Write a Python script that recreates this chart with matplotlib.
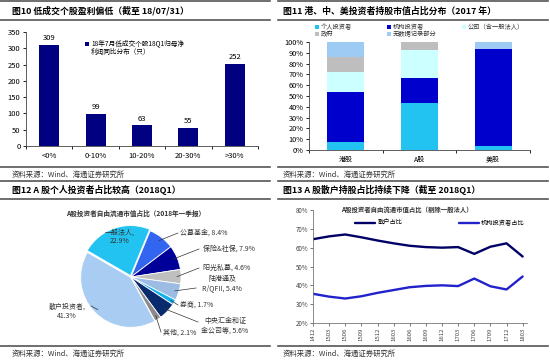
import numpy as np
import matplotlib
matplotlib.use("Agg")
import matplotlib.pyplot as plt
from matplotlib.lines import Line2D
from matplotlib.patches import Rectangle
from matplotlib.ticker import FuncFormatter

plt.rcParams['font.family'] = ['Noto Sans CJK SC', 'DejaVu Sans']

W, H = 550, 363

# ---- data ----
# fig 10
bar_cats = ['<0%', '0-10%', '10-20%', '20-30%', '>30%']
bar_vals = [309, 99, 63, 55, 252]

# fig 11
mkt_cats = ['港股', 'A股', '美股']
individual = [7.5, 43.5, 4.0]
institution = [46.0, 23.5, 89.5]
corporate = [18.5, 26.0, 0.0]
government = [14.0, 7.0, 0.0]
no_record = [14.0, 0.0, 6.5]

# fig 12
pie_labels = ['一般法人', '公募基金', '保险&社保', '阳光私募', '陆港通及\nR/QFII',
              '券商', '中央汇金和证\n金公司等', '其他', '散户投资者']
pie_vals = [22.9, 8.4, 7.9, 4.6, 5.4, 1.7, 5.6, 2.1, 41.3]

# fig 13
quarters = ['1412', '1503', '1506', '1509', '1512', '1603', '1606', '1609',
            '1612', '1703', '1706', '1709', '1712', '1803']
retail = [64.5, 66.0, 67.0, 65.5, 63.8, 62.3, 61.0, 60.3, 60.0, 60.3, 56.7, 60.5, 62.3, 55.3]
inst = [35.5, 34.0, 33.0, 34.2, 36.0, 37.5, 39.0, 39.7, 40.0, 39.6, 43.6, 39.5, 37.8, 44.7]


def px(x0, y0, x1, y1):
    return [x0 / W, 1 - y1 / H, (x1 - x0) / W, (y1 - y0) / H]


def ftext(x, y, s, **kw):
    fig.text(x / W, 1 - y / H, s, **kw)


def hline(x0, x1, y, lw=1.2, c='#555555'):
    fig.add_artist(Line2D([x0 / W, x1 / W], [1 - y / H, 1 - y / H], color=c, lw=lw))


def leg_box(x, y, color, label, size=4.5):
    fig.add_artist(Rectangle((x / W, 1 - (y + 2) / H), 4 / W, 4 / H,
                             facecolor=color, edgecolor='none'))
    ftext(x + 6, y, label, fontsize=size, va='center', color='#333333')


fig = plt.figure(figsize=(5.5, 3.63), dpi=100)

# frame lines / titles / sources
for (a, b) in [(0, 270), (278, 548)]:
    hline(a, b, 1)
    hline(a, b, 20)
    hline(a, b, 167)
    hline(a, b, 181)
    hline(a, b, 199)
    hline(a, b, 346)

ftext(12, 11, '图10 低成交个股盈利偏低（截至 18/07/31）', fontsize=6.4, weight='bold', va='center')
ftext(283, 11, '图11 港、中、美投资者持股市值占比分布（2017 年）', fontsize=6.4, weight='bold', va='center')
ftext(12, 190, '图12 A 股个人投资者占比较高（2018Q1）', fontsize=6.4, weight='bold', va='center')
ftext(283, 190, '图13 A 股散户持股占比持续下降（截至 2018Q1）', fontsize=6.4, weight='bold', va='center')
for x0 in (12, 283):
    ftext(x0, 175, '资料来源：Wind、海通证券研究所', fontsize=5.3, va='center', color='#333333')
    ftext(x0, 354, '资料来源：Wind、海通证券研究所', fontsize=5.3, va='center', color='#333333')

# ---- fig 10 bar chart ----
ax1 = fig.add_axes(px(26, 32, 258, 146))
xb = np.arange(len(bar_cats))
ax1.bar(xb, bar_vals, width=0.43, color='#000080')
for i, v in enumerate(bar_vals):
    ax1.text(i, v + 9, str(v), ha='center', va='bottom', fontsize=5.5)
ax1.set_xlim(-0.5, 4.5)
ax1.set_ylim(0, 350)
ax1.set_yticks(np.arange(0, 351, 50))
ax1.set_xticks(xb)
ax1.set_xticklabels(bar_cats)
ax1.set_xticks(np.arange(-0.5, 4.6, 1), minor=True)
ax1.tick_params(axis='x', which='major', length=0, labelsize=5.5, pad=4)
ax1.tick_params(axis='x', which='minor', length=2.5, width=0.6)
ax1.tick_params(axis='y', labelsize=5.5, length=2.5, width=0.6, pad=1.5)
for s in ('top', 'right'):
    ax1.spines[s].set_visible(False)
for s in ('left', 'bottom'):
    ax1.spines[s].set_linewidth(0.6)
    ax1.spines[s].set_color('#444444')
fig.add_artist(Rectangle((85 / W, 1 - 45.5 / H), 4 / W, 4 / H, facecolor='#000080',
                         edgecolor='none'))
ftext(91, 43, '18年7月低成交个股18Q1归母净', fontsize=4.8, va='center')
ftext(91, 52, '利润同比分布（只）', fontsize=4.8, va='center')

# ---- fig 11 stacked bars ----
ax2 = fig.add_axes(px(309, 42, 530, 150))
xm = np.arange(len(mkt_cats))
series = [(individual, '#22C3F0', '个人投资者'),
          (institution, '#0000CC', '机构投资者'),
          (corporate, '#CCFFFF', '公司（含一般法人）'),
          (government, '#BEBEBE', '政府'),
          (no_record, '#9DCBF3', '无数据记录部分')]
bottom = np.zeros(len(mkt_cats))
for vals, col, lab in series:
    ax2.bar(xm, vals, bottom=bottom, width=0.5, color=col, label=lab)
    bottom += np.array(vals)
ax2.set_xlim(-0.5, 2.5)
ax2.set_ylim(0, 100)
ax2.set_yticks(np.arange(0, 101, 10))
ax2.yaxis.set_major_formatter(FuncFormatter(lambda v, p: '%d%%' % v))
ax2.set_xticks(xm)
ax2.set_xticklabels(mkt_cats)
ax2.set_xticks(np.arange(-0.5, 2.6, 1), minor=True)
ax2.tick_params(axis='x', which='major', length=0, labelsize=5, pad=4)
ax2.tick_params(axis='x', which='minor', length=2.5, width=0.6)
ax2.tick_params(axis='y', labelsize=5.3, length=2.5, width=0.6, pad=1.5)
for s in ('top', 'right'):
    ax2.spines[s].set_visible(False)
for s in ('left', 'bottom'):
    ax2.spines[s].set_linewidth(0.6)
    ax2.spines[s].set_color('#444444')
leg_pos = [(315, 27), (387, 27), (462, 27), (315, 34), (387, 34)]
for (vals, col, lab), (lx, ly) in zip(series, leg_pos):
    leg_box(lx, ly, col, lab)

# ---- fig 12 pie ----
ftext(136, 213, 'A股投资者自由流通市值占比（2018年一季报）', fontsize=4.8, weight='bold',
      ha='center', va='center', color='#333333')
ax3 = fig.add_axes(px(11, 207, 251, 347))
pie_colors = ['#22C3F0', '#3366F0', '#000099', '#BFBFBF', '#9DBCE4',
              '#12B0EC', '#0A2A6E', '#8C8C8C', '#A9CDF2']
explode = [0.03, 0, 0, 0, 0, 0, 0, 0, 0.01]
wedges, _ = ax3.pie(pie_vals, colors=pie_colors, startangle=150, counterclock=False,
                    explode=explode, radius=1.0,
                    wedgeprops=dict(edgecolor='white', linewidth=0.6))
ax3.set_xlim(-2.4, 2.4)
ax3.set_ylim(-1.4, 1.4)
ax3.set_aspect('equal')
ax3.axis('off')

# label positions and leader-line ends (data units, 50 px = 1)
lab_pos = [(-0.22, 0.80, 'center'), (0.98, 0.88, 'left'), (1.44, 0.56, 'left'),
           (1.44, 0.18, 'left'), (1.82, -0.14, 'center'), (0.98, -0.56, 'left'),
           (1.88, -0.98, 'center'), (0.64, -1.12, 'left'), (-1.28, -0.68, 'center')]
line_end = [None, (0.94, 0.88), (1.36, 0.56), (1.36, 0.18), (1.30, -0.22),
            (0.94, -0.56), (1.34, -0.90), (0.60, -1.10), (-0.80, -0.58)]
for i, (w, lab, v) in enumerate(zip(wedges, pie_labels, pie_vals)):
    lx, ly, ha = lab_pos[i]
    if i in (0, 8):
        txt = '%s,\n%.1f%%' % (lab, v)
    else:
        txt = '%s, %.1f%%' % (lab, v)
    if i == 0:
        ax3.text(lx, ly, txt, ha='center', va='center', fontsize=5, color='#333333',
                 linespacing=1.1)
        continue
    ang = np.deg2rad((w.theta1 + w.theta2) / 2)
    r = 0.92 + explode[i]
    ex, ey = line_end[i]
    ax3.plot([r * np.cos(ang), ex], [r * np.sin(ang), ey], color='#333333', lw=0.5,
             clip_on=False)
    ax3.text(lx, ly, txt, ha=ha, va='center', fontsize=5, color='#333333',
             linespacing=1.2, multialignment='center' if ha == 'center' else 'left',
             clip_on=False)

# ---- fig 13 lines ----
ftext(407, 209, 'A股投资者自由流通市值占比（剔除一般法人）', fontsize=4.6, weight='bold',
      ha='center', va='center', color='#333333')
ax4 = fig.add_axes(px(313, 210, 527, 323))
xq = np.arange(len(quarters))
l1, = ax4.plot(xq, retail, color='#000066', lw=1.7, solid_capstyle='round', label='散户占比')
l2, = ax4.plot(xq, inst, color='#2222CC', lw=1.7, solid_capstyle='round', label='机构投资者占比')
ax4.set_xlim(0, 13.27)
ax4.set_ylim(20, 80)
ax4.set_yticks(np.arange(20, 81, 10))
ax4.yaxis.set_major_formatter(FuncFormatter(lambda v, p: '%d%%' % v))
ax4.set_xticks(xq)
ax4.set_xticklabels(quarters, rotation=90)
ax4.tick_params(axis='x', labelsize=4.3, length=2, width=0.5, pad=1.5, colors='#444444')
ax4.tick_params(axis='y', labelsize=4.5, length=2, width=0.5, pad=1.5, colors='#444444')
for s in ('top', 'right'):
    ax4.spines[s].set_visible(False)
for s in ('left', 'bottom'):
    ax4.spines[s].set_linewidth(0.6)
    ax4.spines[s].set_color('#777777')
ax4.legend(handles=[l1, l2], ncol=2, frameon=False, fontsize=4.5, handlelength=3.2,
           columnspacing=9, loc='center left', bbox_to_anchor=(0.17, 0.886),
           handletextpad=0.4)

fig.savefig('out.png', dpi=100)
